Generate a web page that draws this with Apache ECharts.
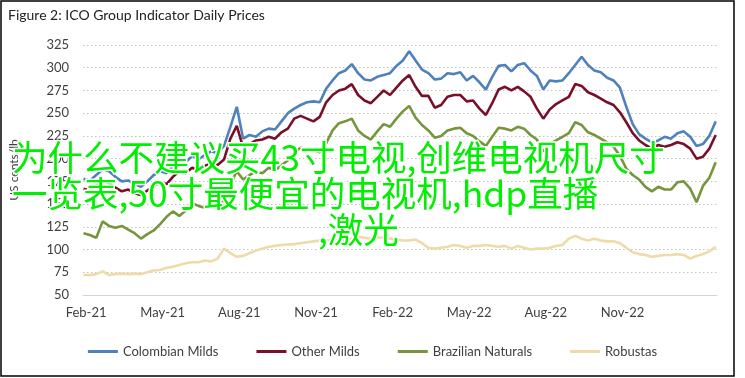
<!DOCTYPE html>
<html>
<head>
<meta charset="utf-8">
<script src="https://cdn.jsdelivr.net/npm/echarts@6/dist/echarts.min.js"></script>
<style>
  html, body { margin: 0; padding: 0; background: #fff; }
  #chart { width: 745px; height: 378px; }
</style>
</head>
<body>
<div id="chart"></div>
<script>
// x positions: months since 1 Feb 2021, one point per ~quarter month
const firstMonth = -0.1;
const monthStep = 0.25;

const tickMonths = [0, 3, 6, 9, 12, 15, 18, 21];
const tickLabels = ['Feb-21', 'May-21', 'Aug-21', 'Nov-21', 'Feb-22', 'May-22', 'Aug-22', 'Nov-22'];

const seriesNames = ['Colombian Milds', 'Other Milds', 'Brazilian Naturals', 'Robustas'];

const colombianMilds = [
  178, 176, 182, 188, 186, 180, 175, 176, 172, 169,
  175, 182, 186, 184, 192, 198, 196, 203, 199, 204,
  208, 206, 214, 235, 257, 222, 226, 224, 230, 233,
  232, 241, 250, 255, 259, 262, 263, 262, 277, 286,
  294, 297, 304, 294, 287, 286, 290, 292, 294, 302,
  308, 318, 308, 298, 294, 287, 288, 294, 293, 295,
  286, 291, 284, 276, 290, 302, 303, 296, 303, 305,
  297, 291, 276, 286, 285, 286, 294, 303, 312, 303,
  297, 295, 289, 286, 278, 257, 238, 227, 222, 218,
  220, 224, 222, 228, 230, 224, 214, 216, 225, 241
];
const otherMilds = [
  167, 165, 170, 176, 173, 168, 164, 166, 162, 160,
  165, 170, 174, 172, 180, 186, 184, 190, 187, 192,
  195, 193, 199, 222, 236, 212, 216, 220, 221, 224,
  222, 229, 233, 244, 247, 244, 241, 246, 262, 270,
  275, 277, 282, 270, 264, 261, 268, 275, 270, 278,
  286, 292, 279, 269, 269, 256, 259, 268, 270, 270,
  263, 264, 255, 248, 261, 276, 279, 275, 279, 274,
  268, 255, 244, 254, 260, 264, 268, 282, 280, 273,
  270, 266, 262, 259, 251, 240, 228, 220, 215, 211,
  215, 213, 215, 218, 216, 211, 200, 202, 211, 226
];
const brazilianNaturals = [
  118, 116, 113, 131, 126, 124, 126, 122, 118, 112,
  117, 121, 128, 136, 142, 137, 143, 151, 148, 146,
  150, 149, 153, 172, 186, 177, 182, 186, 184, 190,
  187, 193, 198, 207, 212, 210, 209, 207, 217, 231,
  239, 241, 244, 231, 225, 221, 230, 238, 235, 244,
  252, 258, 245, 237, 231, 223, 225, 231, 233, 234,
  228, 225, 219, 214, 224, 234, 233, 231, 235, 233,
  226, 221, 208, 216, 220, 224, 228, 240, 237, 229,
  226, 222, 218, 213, 203, 189, 182, 177, 169, 164,
  169, 166, 166, 174, 175, 167, 152, 170, 179, 196
];
const robustas = [
  72, 72, 73, 76, 72, 73, 73.5, 73, 73.5, 73,
  75, 77, 77.5, 80, 81, 83, 85, 86, 86, 88,
  87, 90, 101, 96, 92, 93, 96, 99, 101, 103,
  104, 105, 105.5, 106, 107, 108, 109, 110, 110, 110,
  110, 111, 112, 114, 113, 112, 113.5, 113, 112, 111,
  110, 110, 111, 107, 102, 101, 102, 103, 105, 104,
  102, 104, 104, 105, 104, 103, 104, 101, 104, 102,
  100, 101, 101, 102, 104, 105, 112, 115, 112, 110,
  112, 110, 109, 109, 107, 102, 97, 95, 94, 92,
  93, 94, 94, 95, 94, 90, 93, 95, 98, 103
];

const seriesValues = [colombianMilds, otherMilds, brazilianNaturals, robustas];
const seriesColors = ['#4f81bd', '#7a0f28', '#77953d', '#efdaaa'];

const overlayLines = [
  '为什么不建议买43寸电视,创维电视机尺寸',
  '一览表,50寸最便宜的电视机,hdp直播',
  ',激光'
];

function toPoints(values) {
  return values.map((v, i) => [firstMonth + i * monthStep, v]);
}

const chart = echarts.init(document.getElementById('chart'));
const font = 'Lato';
const overlayFont = '"Noto Sans CJK SC"';

function overlayText(text, x, y) {
  return {
    type: 'text', x: x, y: y, z: 100,
    style: {
      text: text, fontSize: 35.5, fontFamily: overlayFont,
      fill: '#00ee00', stroke: '#fff', lineWidth: 3, verticalAlign: 'middle'
    }
  };
}

const option = {
  animation: false,
  backgroundColor: '#fff',
  textStyle: { fontFamily: font },
  title: {
    text: 'Figure 2: ICO Group Indicator Daily Prices',
    left: 3,
    top: 3,
    textStyle: { fontFamily: font, fontSize: 14, fontWeight: 'normal', color: '#222' }
  },
  grid: { left: 82, right: 28, top: 45, bottom: 83 },
  legend: {
    data: seriesNames,
    left: 'center',
    top: 340,
    icon: 'rect',
    itemWidth: 30,
    itemHeight: 3,
    itemGap: 38,
    textStyle: { fontFamily: font, fontSize: 13, color: '#404040' }
  },
  xAxis: {
    type: 'value',
    min: -0.12,
    max: 24.7,
    axisLine: { show: true, lineStyle: { color: '#d4d4d4', width: 1 } },
    axisTick: { show: false },
    splitLine: { show: false },
    axisLabel: {
      customValues: tickMonths,
      margin: 11,
      fontFamily: font,
      fontSize: 13,
      color: '#404040',
      formatter: function (val) {
        const i = tickMonths.indexOf(Math.round(val));
        return i >= 0 ? tickLabels[i] : '';
      }
    }
  },
  yAxis: {
    type: 'value',
    min: 50,
    max: 325,
    interval: 25,
    name: 'US cents/lb',
    nameLocation: 'middle',
    nameGap: 63,
    nameTextStyle: { fontFamily: font, fontSize: 12, color: '#404040' },
    axisLine: { show: false },
    axisTick: { show: false },
    axisLabel: { margin: 14, fontFamily: font, fontSize: 13, color: '#404040' },
    splitLine: { lineStyle: { color: '#c4c4c4', type: [1.5, 2.5], width: 1.2 } }
  },
  series: seriesNames.map((name, i) => ({
    name: name,
    type: 'line',
    data: toPoints(seriesValues[i]),
    showSymbol: false,
    color: seriesColors[i],
    lineStyle: { width: 2.6, color: seriesColors[i] },
    z: 2 + i
  })),
  graphic: [
    {
      type: 'rect',
      shape: { x: 1, y: 1, width: 733, height: 375 },
      style: { fill: 'none', stroke: '#000', lineWidth: 1.5 },
      z: 50
    },
    overlayText(overlayLines[0], 12, 158),
    overlayText(overlayLines[1], 12, 194),
    overlayText(overlayLines[2], 318, 230)
  ]
};

chart.setOption(option);
</script>
</body>
</html>
